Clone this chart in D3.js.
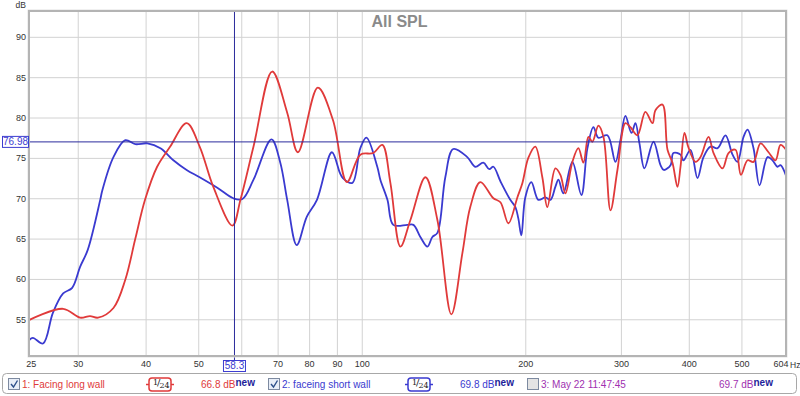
<!DOCTYPE html>
<html>
<head>
<meta charset="utf-8">
<script src="https://cdn.jsdelivr.net/npm/d3@7"></script>
<style>
  html, body { margin: 0; padding: 0; background: #fff; }
  svg { display: block; font-family: "Liberation Sans", Arial, sans-serif; }
</style>
</head>
<body>
<svg id="chart" width="800" height="396"></svg>
<script>
// REW style SPL overlay: two measurements, log frequency axis

// 1: facing long wall (red)
const longWallHz = [24.4, 28.2, 30.3, 31.6, 32.7, 34.9, 36.7, 38.3, 39.9, 42.0, 44.4, 47.6, 50.3, 53.3, 57.8,
  59.8, 63.2, 68.4, 72.9, 76.3, 83.0, 88.5, 93.9, 99.4, 105.0, 109.1, 112.9, 117.8, 122.9, 131.0,
  137.8, 146.2, 153.2, 158.4, 165.3, 174.7, 180.0, 186.2, 193.4, 197.6, 202.6, 208.7, 215.0, 219.6,
  227.2, 232.1, 237.1, 244.2, 250.5, 255.9, 261.4, 265.8, 272.7, 278.6, 287.0, 295.6, 305.8, 312.3,
  321.7, 332.8, 343.0, 347.3, 357.8, 365.5, 373.3, 381.3, 386.2, 392.8, 399.0, 411.5, 420.4, 434.9,
  444.3, 461.5, 473.4, 487.6, 499.0, 513.1, 526.3, 542.2, 560.9, 577.7, 590.1, 604];
const longWallDb = [54.9, 56.3, 55.2, 55.4, 55.2, 56.4, 59.9, 65.0, 69.8, 73.9, 76.4, 79.3, 76.4, 71.4, 66.6,
  69.8, 76.4, 85.7, 80.6, 75.7, 83.7, 79.7, 72.0, 75.4, 75.6, 76.6, 71.9, 64.0, 67.3, 72.6,
  67.3, 55.6, 63.2, 68.9, 72.0, 70.0, 69.5, 66.9, 70.1, 71.9, 75.0, 76.4, 72.6, 68.9,
  73.7, 72.9, 70.6, 74.5, 76.2, 74.4, 77.6, 77.0, 79.0, 77.6, 68.5, 73.5, 79.3, 78.8,
  77.8, 80.7, 79.3, 80.9, 81.6, 76.0, 74.4, 71.4, 73.9, 78.1, 76.4, 74.5, 75.1, 77.6,
  75.6, 73.7, 75.6, 76.0, 72.9, 74.7, 74.5, 76.8, 75.7, 74.7, 76.6, 76.0];

// 2: faceing short wall (blue)
const shortWallHz = [24.4, 24.8, 25.9, 27.0, 28.2, 29.3, 30.3, 31.3, 33.0, 33.3, 34.9, 36.7, 38.3, 40.3, 42.6,
  45.0, 47.6, 50.3, 54.2, 58.0, 60.3, 63.2, 68.2, 70.8, 72.9, 75.9, 79.2, 82.7, 88.1, 91.2,
  92.3, 96.1, 99.4, 102.0, 106.8, 108.2, 111.5, 114.3, 121.3, 124.5, 128.2, 132.1, 134.9, 137.8,
  142.5, 147.4, 156.4, 161.8, 167.4, 171.7, 174.7, 180.0, 187.7, 191.8, 194.2, 196.7, 200.0, 205.2,
  211.4, 217.8, 222.5, 227.2, 230.2, 235.0, 244.2, 253.7, 260.3, 267.0, 272.7, 283.3, 293.1, 299.4,
  305.8, 313.7, 319.0, 324.5, 331.4, 344.4, 354.8, 359.7, 370.2, 374.8, 386.2, 391.1, 402.9, 415.0,
  425.7, 438.6, 451.9, 467.4, 481.5, 491.8, 504.5, 513.1, 526.3, 539.9, 558.5, 570.4, 582.6, 590.1, 604];
const shortWallDb = [52.4, 52.7, 52.0, 55.8, 58.2, 58.9, 61.5, 63.6, 69.8, 71.0, 75.1, 77.2, 76.7, 76.8, 76.2,
  74.7, 73.5, 72.6, 71.3, 70.0, 69.9, 72.3, 77.3, 74.4, 69.8, 64.2, 67.7, 69.8, 75.7, 73.1,
  72.5, 71.9, 76.2, 77.5, 73.9, 72.3, 69.8, 66.7, 66.7, 66.7, 65.2, 64.0, 65.2, 65.7,
  72.6, 76.1, 75.1, 73.9, 74.4, 73.6, 73.9, 72.1, 69.8, 68.9, 67.5, 65.4, 70.1, 72.0,
  69.8, 70.1, 69.8, 71.4, 72.3, 70.6, 74.5, 70.4, 76.2, 78.8, 77.5, 77.8, 74.5, 77.2,
  80.2, 78.1, 79.3, 76.8, 73.7, 77.0, 74.1, 73.5, 74.1, 75.6, 75.4, 74.7, 76.0, 72.5,
  75.1, 76.4, 76.2, 77.8, 75.4, 74.5, 77.6, 78.5, 76.2, 71.6, 75.1, 74.7, 73.9, 74.1, 72.8];

const xTicks = [30, 40, 50, 60, 70, 80, 90, 100, 200, 300, 400, 500];
const xLabels = [25, 30, 40, 50, 60, 70, 80, 90, 100, 200, 300, 400, 500, 604];
const yTicks = [55, 60, 65, 70, 75, 80, 85, 90];

const cursorHz = 58.3;
const cursorDb = 76.98;

const legendItems = [
  { name: "1: Facing long wall", level: "66.8 dB", color: "#e03a3a", checked: true, smooth: true },
  { name: "2: faceing short wall", level: "69.8 dB", color: "#3a3ad0", checked: true, smooth: true },
  { name: "3: May 22 11:47:45", level: "69.7 dB", color: "#a030b0", checked: false, smooth: false }
];

const svg = d3.select("#chart");
const pL = 29, pR = 786, pT = 11, pB = 356;

const x = d3.scaleLog().domain([24.4, 604]).range([pL, pR]);
const y = d3.scaleLinear().domain([50.45, 93.2]).range([pB, pT]);

// plot background + grid
svg.append("rect")
  .attr("x", pL).attr("y", pT)
  .attr("width", pR - pL).attr("height", pB - pT)
  .attr("fill", "#fff");

svg.append("g")
  .attr("transform", `translate(0,${pB})`)
  .call(d3.axisBottom(x).tickValues(xTicks).tickSize(-(pB - pT)).tickFormat(""))
  .call((g) => g.select(".domain").remove())
  .selectAll("line").attr("stroke", "#d2d2d2");

svg.append("g")
  .attr("transform", `translate(${pL},0)`)
  .call(d3.axisLeft(y).tickValues(yTicks).tickSize(-(pR - pL)).tickFormat(""))
  .call((g) => g.select(".domain").remove())
  .selectAll("line").attr("stroke", "#d2d2d2");

// title
svg.append("text")
  .attr("x", 399.5).attr("y", 27)
  .attr("text-anchor", "middle")
  .attr("font-size", 16).attr("font-weight", "bold")
  .attr("fill", "#8a8a8a")
  .text("All SPL");

// curves
const line = d3.line()
  .x((d) => x(d[0]))
  .y((d) => y(d[1]))
  .curve(d3.curveCatmullRom.alpha(0.5));

const plot = svg.append("g");
plot.append("clipPath").attr("id", "clip")
  .append("rect").attr("x", pL).attr("y", pT)
  .attr("width", pR - pL).attr("height", pB - pT);

const series = [
  { hz: shortWallHz, db: shortWallDb, color: legendItems[1].color },
  { hz: longWallHz, db: longWallDb, color: legendItems[0].color }
];

plot.selectAll("path.curve")
  .data(series)
  .enter()
  .append("path")
  .attr("class", "curve")
  .attr("clip-path", "url(#clip)")
  .attr("fill", "none")
  .attr("stroke", (d) => d.color)
  .attr("stroke-width", 1.8)
  .attr("stroke-linejoin", "round")
  .attr("d", (d) => line(d.hz.map((h, i) => [h, d.db[i]])));

// cursor crosshair
const cx = x(cursorHz), cy = y(cursorDb);
const cursorColor = "#2b2b9c";
svg.append("line")
  .attr("x1", cx).attr("x2", cx).attr("y1", pT).attr("y2", pB + 4)
  .attr("stroke", cursorColor).attr("stroke-width", 1);
svg.append("line")
  .attr("x1", pL).attr("x2", pR).attr("y1", cy).attr("y2", cy)
  .attr("stroke", cursorColor).attr("stroke-width", 1);

// frame
svg.append("rect")
  .attr("x", pL - 1).attr("y", pT - 1)
  .attr("width", pR - pL + 2).attr("height", pB - pT + 2)
  .attr("fill", "none").attr("stroke", "#e2e2e2").attr("stroke-width", 1);
svg.append("rect")
  .attr("x", pL).attr("y", pT)
  .attr("width", pR - pL).attr("height", pB - pT)
  .attr("fill", "none").attr("stroke", "#b4b4b4").attr("stroke-width", 2);

// y labels
const yAxis = svg.append("g")
  .attr("transform", `translate(${pL - 3},0)`)
  .call(d3.axisLeft(y).tickValues(yTicks).tickSize(0).tickPadding(0));
yAxis.select(".domain").remove();
yAxis.selectAll("text")
  .attr("font-size", 9).attr("fill", "#333")
  .attr("font-family", "Liberation Sans, sans-serif");

svg.append("text")
  .attr("x", 26).attr("y", 8)
  .attr("text-anchor", "end")
  .attr("font-size", 8.5).attr("fill", "#333")
  .text("dB");

// x labels, the one under the cursor box is hidden
const labelTicks = xLabels.filter((v) => Math.abs(x(v) - cx) > 16);
const xAxis = svg.append("g")
  .attr("transform", `translate(0,${pB + 5})`)
  .call(d3.axisBottom(x).tickValues(labelTicks).tickSize(0).tickPadding(0)
    .tickFormat((v) => d3.format("d")(v)));
xAxis.select(".domain").remove();
xAxis.selectAll("text")
  .attr("font-size", 9).attr("fill", "#333")
  .attr("font-family", "Liberation Sans, sans-serif")
  .attr("dx", (v) => (v === 25 ? -4 : v === 604 ? -5.5 : 0));
svg.append("text")
  .attr("x", 790).attr("y", pB + 12)
  .attr("text-anchor", "start")
  .attr("font-size", 8.5).attr("fill", "#333")
  .text("Hz");

// cursor value boxes
function cursorBox(bx, by, bw, bh, txt) {
  svg.append("rect")
    .attr("x", bx).attr("y", by).attr("width", bw).attr("height", bh)
    .attr("fill", "#fff").attr("stroke", "#3d3dd0").attr("stroke-width", 1);
  svg.append("text")
    .attr("x", bx + bw / 2).attr("y", by + bh - 2.5)
    .attr("text-anchor", "middle")
    .attr("font-size", 10).attr("fill", "#3d3dd0")
    .text(txt);
}
cursorBox(2.5, cy - 5.5, 26, 11, cursorDb.toFixed(2));
cursorBox(cx - 11, pB + 4.5, 22, 11, String(cursorHz));

// legend bar
const legend = svg.append("g").attr("font-size", 10);
legend.append("rect")
  .attr("x", 2.5).attr("y", 373.5).attr("width", 794).attr("height", 20)
  .attr("rx", 4).attr("fill", "#fff").attr("stroke", "#a8a8a8");

const itemX = [8, 268, 527];
const smoothX = [146, 405];
const levelX = [201, 460, 719];

legendItems.forEach((it, i) => {
  const g = legend.append("g");
  const bx = itemX[i];
  g.append("rect")
    .attr("x", bx + 0.5).attr("y", 378.5).attr("width", 11).attr("height", 11)
    .attr("fill", it.checked ? "#e8eef8" : "#e4e4e4").attr("stroke", "#7d8aa0");
  if (it.checked) {
    g.append("path")
      .attr("d", `M${bx + 3},${384} L${bx + 5.5},${387} L${bx + 9.5},${380.5}`)
      .attr("fill", "none").attr("stroke", "#2c4f8a").attr("stroke-width", 1.4);
  }
  g.append("text")
    .attr("x", bx + 14).attr("y", 388)
    .attr("fill", it.color)
    .text(it.name);

  if (it.smooth) {
    const sx = smoothX[i];
    g.append("line")
      .attr("x1", sx).attr("x2", sx + 28).attr("y1", 384.5).attr("y2", 384.5)
      .attr("stroke", it.color).attr("stroke-width", 1.5);
    g.append("rect")
      .attr("x", sx + 3).attr("y", 378).attr("width", 22).attr("height", 13)
      .attr("rx", 3).attr("fill", "#fff")
      .attr("stroke", it.color).attr("stroke-width", 1.5);
    const frac = g.append("text")
      .attr("x", sx + 7).attr("y", 386)
      .attr("font-family", "DejaVu Serif, serif").attr("fill", "#222");
    frac.append("tspan").attr("font-size", 8).attr("dy", -1.5).text("1");
    frac.append("tspan").attr("font-size", 10).attr("dy", 1.5).attr("dx", -1).text("/");
    frac.append("tspan").attr("font-size", 8).attr("dy", 2).attr("dx", -1).text("24");
  }

  const lt = g.append("text")
    .attr("x", levelX[i]).attr("y", 388)
    .attr("fill", it.color);
  lt.append("tspan").text(it.level);
  lt.append("tspan")
    .attr("dy", -2.5).attr("font-weight", "bold").attr("font-size", 10)
    .attr("fill", "#1e1e9a")
    .text("new");
});
</script>
</body>
</html>
